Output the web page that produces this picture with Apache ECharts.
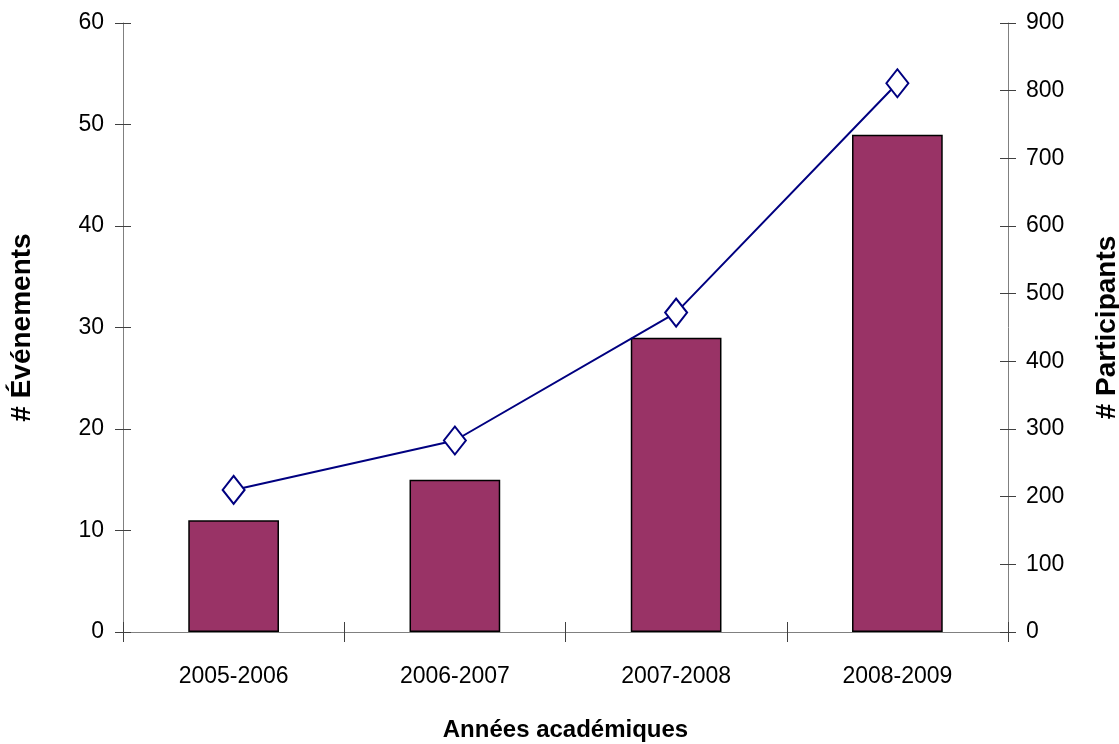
<!DOCTYPE html>
<html>
<head>
<meta charset="utf-8">
<script src="https://cdn.jsdelivr.net/npm/echarts@6/dist/echarts.min.js"></script>
<style>
  html, body { margin: 0; padding: 0; background: #fff; }
  #chart { width: 1119px; height: 744px; }
</style>
</head>
<body>
<div id="chart"></div>
<script>
// Academic years and yearly totals
const years = ['2005-2006', '2006-2007', '2007-2008', '2008-2009'];
const evenements = [11, 15, 29, 49];
const participants = [210, 283, 472, 811];

const tickFont = "'Liberation Sans Narrow', 'Arial Narrow', 'Liberation Sans', Arial, sans-serif";
const titleFont = "'Liberation Sans', Arial, sans-serif";
const axisGray = '#808080';
const tickGray = '#404040';

const chart = echarts.init(document.getElementById('chart'));

// Ticks cross the axis lines: outer ticks on the labelled axes, inner ticks on overlay axes
function overlayY(pos, min, max, interval) {
  return {
    type: 'value', position: pos, min: min, max: max, interval: interval,
    axisLine: { show: false }, splitLine: { show: false }, axisLabel: { show: false },
    axisTick: { show: true, inside: true, length: 8, lineStyle: { color: tickGray, width: 1 } }
  };
}

chart.setOption({
  animation: false,
  backgroundColor: '#fff',
  grid: { left: 123, right: 111, top: 23, bottom: 112, outerBoundsMode: 'none', containLabel: false },
  xAxis: [
    {
      type: 'category', data: years, boundaryGap: true,
      axisLine: { show: true, lineStyle: { color: axisGray, width: 1 } },
      axisTick: { show: true, length: 10, lineStyle: { color: tickGray } },
      axisLabel: { color: '#000', fontFamily: tickFont, fontSize: 23, margin: 33 },
      name: 'Années académiques', nameLocation: 'middle', nameGap: 86,
      nameTextStyle: { fontFamily: titleFont, fontWeight: 'bold', fontSize: 24, color: '#000' }
    },
    {
      type: 'category', data: years, boundaryGap: true, position: 'bottom',
      axisLine: { show: false }, axisLabel: { show: false },
      axisTick: { show: true, inside: true, length: 10, lineStyle: { color: tickGray } }
    }
  ],
  yAxis: [
    {
      type: 'value', position: 'left', min: 0, max: 60, interval: 10,
      axisLine: { show: true, lineStyle: { color: axisGray, width: 1 } },
      axisTick: { show: true, length: 8, lineStyle: { color: tickGray } },
      splitLine: { show: false },
      axisLabel: { color: '#000', fontFamily: tickFont, fontSize: 23, margin: 19 },
      name: '# Événements', nameLocation: 'middle', nameGap: 87, nameRotate: 90,
      nameTextStyle: { fontFamily: titleFont, fontWeight: 'bold', fontSize: 28, color: '#000' }
    },
    {
      type: 'value', position: 'right', min: 0, max: 900, interval: 100,
      axisLine: { show: true, lineStyle: { color: axisGray, width: 1 } },
      axisTick: { show: true, length: 8, lineStyle: { color: tickGray } },
      splitLine: { show: false },
      axisLabel: { color: '#000', fontFamily: tickFont, fontSize: 23, margin: 18 },
      name: '# Participants', nameLocation: 'middle', nameGap: 85, nameRotate: 90,
      nameTextStyle: { fontFamily: titleFont, fontWeight: 'bold', fontSize: 28, color: '#000' }
    },
    overlayY('left', 0, 60, 10),
    overlayY('right', 0, 900, 100)
  ],
  series: [
    {
      name: '# Événements', type: 'bar', data: evenements,
      xAxisIndex: 0, yAxisIndex: 0, barWidth: '41%',
      itemStyle: { color: '#993366', borderColor: '#000', borderWidth: 1.5 }
    },
    {
      name: '# Participants', type: 'line', data: participants,
      xAxisIndex: 0, yAxisIndex: 1,
      symbol: 'diamond', symbolSize: [22, 28], showAllSymbol: true,
      lineStyle: { color: '#000080', width: 2 },
      itemStyle: { color: '#fff', borderColor: '#000080', borderWidth: 2 }
    }
  ]
});
</script>
</body>
</html>
